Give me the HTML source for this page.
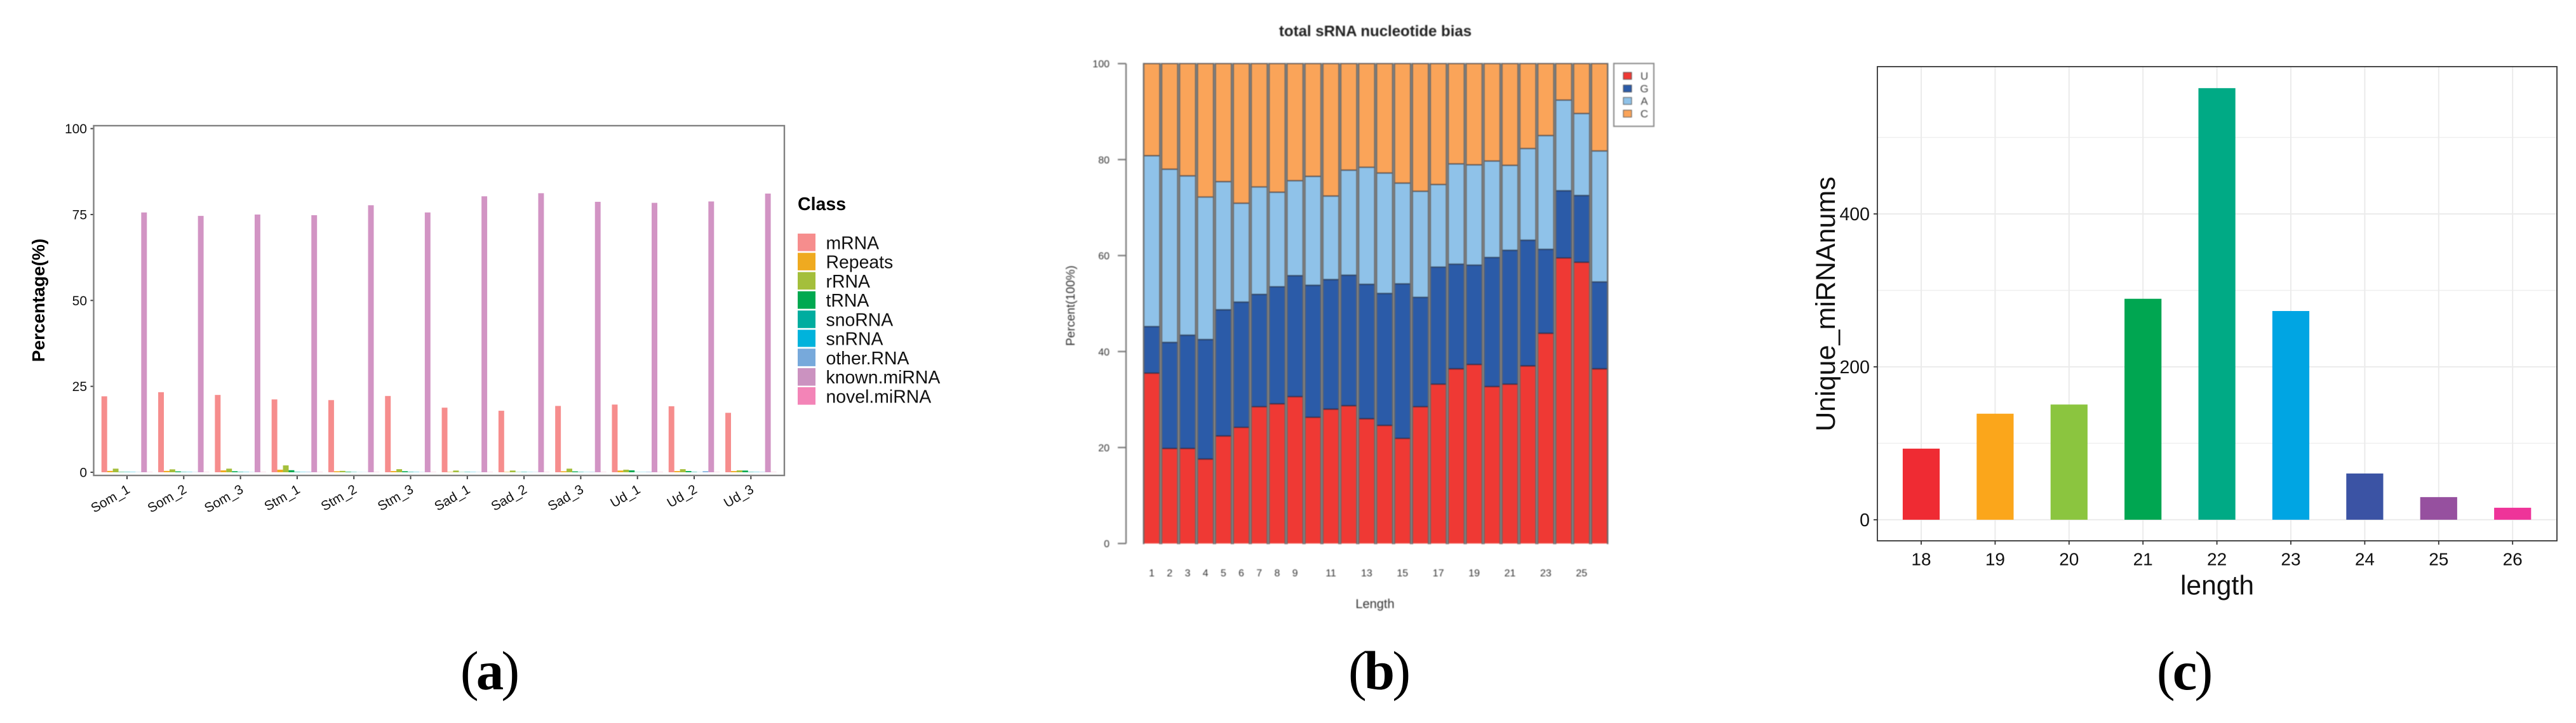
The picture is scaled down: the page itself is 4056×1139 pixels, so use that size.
<!DOCTYPE html>
<html lang="en">
<head>
<meta charset="utf-8">
<title>sRNA figure panels</title>
<style>
html,body{margin:0;padding:0;background:#fff;}
svg{display:block;}
text{font-family:"Liberation Sans",sans-serif;}
.cap{font-family:"Liberation Serif",serif;font-size:87px;letter-spacing:-4px;fill:#000;text-anchor:middle;}
</style>
</head>
<body>
<svg id="fig" xmlns="http://www.w3.org/2000/svg" width="4056" height="1139" viewBox="0 0 4056 1139">
  <rect width="4056" height="1139" fill="#fff"/>

  <g id="panelA">
    <text x="70" y="473" transform="rotate(-90 70 473)" font-size="28" font-weight="bold" text-anchor="middle">Percentage(%)</text>
    <g>
      <text x="1256" y="331" font-size="28.5" font-weight="bold">Class</text>
      <rect x="1256" y="368" width="28" height="27.6" fill="#F68D8D"/>
      <rect x="1256" y="398.3" width="28" height="27.6" fill="#EFAA20"/>
      <rect x="1256" y="428.6" width="28" height="27.6" fill="#A4BF3B"/>
      <rect x="1256" y="458.9" width="28" height="27.6" fill="#00A950"/>
      <rect x="1256" y="489.2" width="28" height="27.6" fill="#00AD9F"/>
      <rect x="1256" y="519.5" width="28" height="27" fill="#00B3DC"/>
      <rect x="1256" y="549.3" width="28" height="27.6" fill="#77A9DB"/>
      <rect x="1256" y="580" width="28" height="27.6" fill="#CB92C0"/>
      <rect x="1256" y="610" width="28" height="27.6" fill="#F384B7"/>
      <g font-size="28.4" fill="#111">
        <text x="1300.5" y="392.5">mRNA</text>
        <text x="1300.5" y="422.5">Repeats</text>
        <text x="1300.5" y="453">rRNA</text>
        <text x="1300.5" y="483">tRNA</text>
        <text x="1300.5" y="513.5">snoRNA</text>
        <text x="1300.5" y="543.5">snRNA</text>
        <text x="1300.5" y="574">other.RNA</text>
        <text x="1300.5" y="604">known.miRNA</text>
        <text x="1300.5" y="634.5">novel.miRNA</text>
      </g>
    </g>
  </g>

  <g id="panelB" style="filter:blur(0.7px)">
    <text x="2165.5" y="57" font-size="24" font-weight="bold" text-anchor="middle" fill="#222">total sRNA nucleotide bias</text>
    <text x="1692" y="481.5" transform="rotate(-90 1692 481.5)" font-size="19" text-anchor="middle" fill="#333">Percent(100%)</text>
    <text x="2165" y="958" font-size="20" text-anchor="middle" fill="#333">Length</text>
    <g>
      <rect x="2541" y="100" width="63" height="99" fill="#fff" stroke="#888" stroke-width="2"/>
      <rect x="2556" y="114" width="13" height="11" fill="#EF3934" stroke="#555" stroke-width="1"/>
      <rect x="2556" y="134" width="13" height="11" fill="#2B5BA8" stroke="#555" stroke-width="1"/>
      <rect x="2556" y="153.5" width="13" height="11" fill="#8FC2E9" stroke="#555" stroke-width="1"/>
      <rect x="2556" y="173.5" width="13" height="11" fill="#FAA459" stroke="#555" stroke-width="1"/>
      <g font-size="17" fill="#444" text-anchor="middle">
        <text x="2589" y="125.5">U</text>
        <text x="2589" y="145.5">G</text>
        <text x="2589" y="165">A</text>
        <text x="2589" y="185">C</text>
      </g>
    </g>
  </g>

  <g id="panelC">
    <text x="2889" y="479" transform="rotate(-90 2889 479)" font-size="43" text-anchor="middle" fill="#111">Unique_miRNAnums</text>
    <text x="3491" y="936.5" font-size="42.6" text-anchor="middle" fill="#111">length</text>
  </g>

  <text class="cap" x="769.5" y="1086">(<tspan font-weight="bold">a</tspan>)</text>
  <text class="cap" x="2170" y="1086">(<tspan font-weight="bold">b</tspan>)</text>
  <text class="cap" x="3438" y="1086">(<tspan font-weight="bold">c</tspan>)</text>
</svg>

<script>
// ---- Panel (a) data ----
const samplesA = ["Som_1","Som_2","Som_3","Stm_1","Stm_2","Stm_3","Sad_1","Sad_2","Sad_3","Ud_1","Ud_2","Ud_3"];
const mRNA = [22.1,23.3,22.5,21.2,21.0,22.2,18.8,17.9,19.3,19.7,19.2,17.3];
const repeats = [0.4,0.4,0.55,0.75,0.3,0.35,0.1,0.1,0.3,0.5,0.35,0.35];
const rRNA = [1.05,0.85,1.05,2.0,0.4,0.9,0.5,0.5,1.05,0.75,0.9,0.55];
const tRNA = [0.1,0.25,0.3,0.6,0.15,0.3,0.05,0.05,0.25,0.55,0.35,0.5];
const snoRNA = [0.1,0.1,0.12,0.12,0.08,0.12,0.1,0.1,0.1,0.05,0.1,0.1];
const snRNA = [0.08,0.08,0.08,0.08,0.03,0.08,0.07,0.05,0.05,0.05,0.03,0.08];
const otherRNA = [0.05,0.05,0.05,0.1,0.03,0.05,0.05,0.05,0.08,0.1,0.3,0.08];
const knownMiRNA = [75.6,74.6,75.0,74.8,77.7,75.6,80.3,81.2,78.7,78.4,78.8,81.1];
const novelMiRNA = [0.05,0.05,0.05,0.05,0.05,0.05,0.05,0.05,0.05,0.05,0.05,0.05];
const ticksA = [0,25,50,75,100];

// ---- Panel (b) data ----
const positionsB = [1,2,3,4,5,6,7,8,9,10,11,12,13,14,15,16,17,18,19,20,21,22,23,24,25,26];
const labelledPositionsB = [1,2,3,4,5,6,7,8,9,11,13,15,17,19,21,23,25];
const percentU = [35.5,19.8,19.8,17.6,22.4,24.2,28.5,29.1,30.6,26.3,28,28.7,26,24.6,21.9,28.5,33.2,36.4,37.3,32.7,33.2,37,43.8,59.5,58.6,36.4];
const percentG = [9.7,22.1,23.6,24.9,26.3,26.1,23.4,24.4,25.2,27.5,27,27.2,28,27.5,32.2,22.8,24.4,21.8,20.7,26.9,27.9,26.2,17.5,14,13.9,18.1];
const percentA = [35.6,36.1,33.2,29.7,26.7,20.6,22.4,19.7,19.8,22.7,17.4,21.9,24.4,25.1,21,22.1,17.2,20.9,20.9,20.1,17.7,19.1,23.7,18.9,17.1,27.3];
const percentC = [19.2,22,23.4,27.8,24.6,29.1,25.7,26.8,24.4,23.5,27.6,22.2,21.6,22.8,24.9,26.6,25.2,20.9,21.1,20.3,21.2,17.7,15,7.6,10.4,18.2];
const ticksB = [0,20,40,60,80,100];

// ---- Panel (c) data ----
const lengthsC = [18,19,20,21,22,23,24,25,26];
const uniqueMiRNA = [93,138.7,150.7,289,564.5,273,60.5,29.6,15.7];
const ticksC = [0,200,400];
const minorTicksC = [100,300,500];

const NS = "http://www.w3.org/2000/svg";
function mk(tag, attrs, parent, txt) {
  const el = document.createElementNS(NS, tag);
  for (const k in attrs) el.setAttribute(k, attrs[k]);
  if (txt !== undefined) el.textContent = txt;
  parent.appendChild(el);
  return el;
}

// ===== Panel (a) =====
(function () {
  const g = document.getElementById("panelA");
  const L = 147.5, R = 1235, T = 198, B = 749, Y0 = 744, PX = 5.414;
  const X0 = 200, STEP = 89.3, BW = 8.94;
  const yA = v => Y0 - v * PX;
  const xA = i => X0 + i * STEP;
  const classes = [
    ["mrna", mRNA, "#F68D8D"], ["repeats", repeats, "#EFAA20"], ["rrna", rRNA, "#A4BF3B"],
    ["trna", tRNA, "#00A950"], ["snorna", snoRNA, "#00AD9F"], ["snrna", snRNA, "#00B3DC"],
    ["other-rna", otherRNA, "#77A9DB"], ["known-mirna", knownMiRNA, "#D294C4"], ["novel-mirna", novelMiRNA, "#F384B7"]
  ];
  samplesA.forEach((s, i) => {
    classes.forEach((c, j) => {
      const v = c[1][i];
      const r = mk("rect", {x: xA(i) - 4.5 * BW + j * BW, y: yA(v), width: BW, height: Y0 - yA(v), fill: c[2]}, g);
      
      
    });
    const t = mk("line", {x1: xA(i), x2: xA(i), y1: B, y2: B + 6, stroke: "#444", "stroke-width": 2}, g);
    
    
    const lab = mk("text", {x: xA(i) + 6, y: 775, "font-size": 21, "text-anchor": "end", fill: "#111",
      transform: "rotate(-30 " + (xA(i) + 6) + " 775)"}, g, s);
    
    
  });
  ticksA.forEach(v => {
    const t = mk("line", {x1: L - 5, x2: L, y1: yA(v), y2: yA(v), stroke: "#444", "stroke-width": 2}, g);
    
    
    const lab = mk("text", {x: 137, y: yA(v) + 7.5, "font-size": 21, "text-anchor": "end", fill: "#111"}, g, String(v));
    
    
  });
  const fr = mk("rect", {x: L, y: T, width: R - L, height: B - T, fill: "none", stroke: "#808080", "stroke-width": 2.4}, g);
  
  
})();

// ===== Panel (b) =====
(function () {
  const g = document.getElementById("panelB");
  const Y0 = 856.2, PX = 7.56, X0 = 1800.7, STEP = 28.2, BW = 25.6, AX = 1773;
  const yB = v => Y0 - v * PX;
  const xB = p => X0 + (p - 1) * STEP;
  const series = [["u", percentU, "#EF3934"], ["g", percentG, "#2B5BA8"], ["a", percentA, "#8FC2E9"], ["c", percentC, "#FAA459"]];
  positionsB.forEach((p, i) => {
    let cum = 0;
    const tops = [];
    series.forEach(s => {
      const bottom = cum;
      cum += s[1][i];
      const r = mk("rect", {x: xB(p), y: yB(cum), width: BW, height: yB(bottom) - yB(cum), fill: s[2]}, g);
      
      
      tops.push(cum);
    });
    tops.forEach(c => {
      const sep = mk("line", {x1: xB(p), x2: xB(p) + BW, y1: yB(c), y2: yB(c), stroke: "rgba(20,25,40,.72)", "stroke-width": 1.6}, g);
      
      
    });
    [xB(p), xB(p) + BW].forEach(x => {
      const e = mk("line", {x1: x, x2: x, y1: yB(100) - 1, y2: Y0 + 1, stroke: "#686868", "stroke-width": 2.3}, g);
      
      
    });
  });
  const ax = mk("line", {x1: AX, x2: AX, y1: yB(100), y2: yB(0), stroke: "#777", "stroke-width": 2.2}, g);
  
  
  ticksB.forEach(v => {
    const t = mk("line", {x1: AX - 13, x2: AX, y1: yB(v), y2: yB(v), stroke: "#777", "stroke-width": 2.2}, g);
    
    
    const lab = mk("text", {x: 1747, y: yB(v) + 6, "font-size": 16, "text-anchor": "end", fill: "#333"}, g, String(v));
    
    
  });
  labelledPositionsB.forEach(p => {
    const lab = mk("text", {x: xB(p) + BW / 2, y: 908, "font-size": 16, "text-anchor": "middle", fill: "#333"}, g, String(p));
    
    
  });
})();

// ===== Panel (c) =====
(function () {
  const g = document.getElementById("panelC");
  const L = 2956, R = 4026, T = 105, B = 852, Y0 = 818.8, PX = 1.2045, X0 = 3025, STEP = 116.4, BW = 58.2;
  const yC = v => Y0 - v * PX;
  const xC = i => X0 + i * STEP;
  const colorsC = ["#EF2B33","#FBA61B","#8BC53F","#00A651","#00AA85","#00A5E3","#3B53A4","#96509F","#EE3499"];
  minorTicksC.forEach(v => {
    const l = mk("line", {x1: L, x2: R, y1: yC(v), y2: yC(v), stroke: "#efefef", "stroke-width": 1.5}, g);
    
    
  });
  ticksC.forEach(v => {
    const l = mk("line", {x1: L, x2: R, y1: yC(v), y2: yC(v), stroke: "#ebebeb", "stroke-width": 2}, g);
    
    
  });
  lengthsC.forEach((len, i) => {
    const l = mk("line", {x1: xC(i), x2: xC(i), y1: T, y2: B, stroke: "#ebebeb", "stroke-width": 2}, g);
    
    
  });
  lengthsC.forEach((len, i) => {
    const v = uniqueMiRNA[i];
    const r = mk("rect", {x: xC(i) - BW / 2, y: yC(v), width: BW, height: Y0 - yC(v), fill: colorsC[i]}, g);
    
    
    const t = mk("line", {x1: xC(i), x2: xC(i), y1: B, y2: B + 6, stroke: "#333", "stroke-width": 1.8}, g);
    
    
    const lab = mk("text", {x: xC(i), y: 890.5, "font-size": 28, "text-anchor": "middle", fill: "#111"}, g, String(len));
    
    
  });
  ticksC.forEach(v => {
    const t = mk("line", {x1: L - 6, x2: L, y1: yC(v), y2: yC(v), stroke: "#333", "stroke-width": 1.8}, g);
    
    
    const lab = mk("text", {x: 2944, y: yC(v) + 10, "font-size": 28.5, "text-anchor": "end", fill: "#111"}, g, String(v));
    
    
  });
  const fr = mk("rect", {x: L, y: T, width: R - L, height: B - T, fill: "none", stroke: "#333", "stroke-width": 1.8}, g);
  
  
})();
</script>
</body>
</html>
